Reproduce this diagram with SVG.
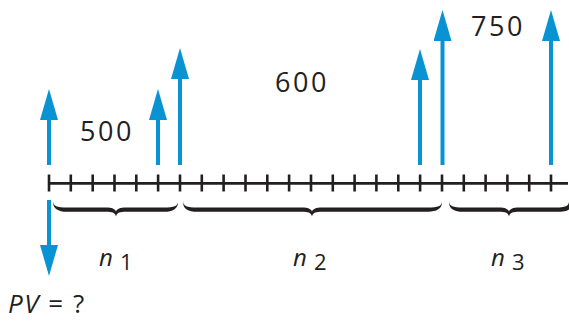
<svg xmlns="http://www.w3.org/2000/svg" width="569" height="321" viewBox="0 0 569 321">
<style>
.txt{font-family:"Open Sans","Noto Sans",sans-serif;fill:#231f20}
.num{font-size:27px;letter-spacing:2.5px}
.n{font-size:24px;font-style:italic}
.d{font-size:22px}
.arr{stroke:#0a93d2;stroke-width:4;fill:none;marker-end:url(#head)}
.axis{stroke:#231f20;stroke-width:2.8;fill:none}
.tick{stroke:#231f20;stroke-width:2.6}
.brace{fill:#231f20}
</style>
<defs>
<marker id="head" markerUnits="userSpaceOnUse" markerWidth="31" markerHeight="18" viewBox="0 0 31 18" refX="2" refY="9" orient="auto">
<path d="M0,0 L31,9 L0,18 Z" fill="#0a93d2"/>
</marker>
</defs>
<g id="axis">
<line class="axis" x1="48" y1="183.3" x2="568" y2="183.3"/>
<g class="tick">
<line x1="49" y1="174.5" x2="49" y2="191.5"/>
<line x1="70.8" y1="174.5" x2="70.8" y2="191.5"/>
<line x1="92.7" y1="174.5" x2="92.7" y2="191.5"/>
<line x1="114.5" y1="174.5" x2="114.5" y2="191.5"/>
<line x1="136.3" y1="174.5" x2="136.3" y2="191.5"/>
<line x1="158.1" y1="174.5" x2="158.1" y2="191.5"/>
<line x1="180" y1="174.5" x2="180" y2="191.5"/>
<line x1="201.8" y1="174.5" x2="201.8" y2="191.5"/>
<line x1="223.6" y1="174.5" x2="223.6" y2="191.5"/>
<line x1="245.5" y1="174.5" x2="245.5" y2="191.5"/>
<line x1="267.3" y1="174.5" x2="267.3" y2="191.5"/>
<line x1="289.1" y1="174.5" x2="289.1" y2="191.5"/>
<line x1="311" y1="174.5" x2="311" y2="191.5"/>
<line x1="332.8" y1="174.5" x2="332.8" y2="191.5"/>
<line x1="354.6" y1="174.5" x2="354.6" y2="191.5"/>
<line x1="376.4" y1="174.5" x2="376.4" y2="191.5"/>
<line x1="398.3" y1="174.5" x2="398.3" y2="191.5"/>
<line x1="420.1" y1="174.5" x2="420.1" y2="191.5"/>
<line x1="442" y1="174.5" x2="442" y2="191.5"/>
<line x1="463.8" y1="174.5" x2="463.8" y2="191.5"/>
<line x1="485.6" y1="174.5" x2="485.6" y2="191.5"/>
<line x1="507.4" y1="174.5" x2="507.4" y2="191.5"/>
<line x1="529.2" y1="174.5" x2="529.2" y2="191.5"/>
<line x1="551" y1="174.5" x2="551" y2="191.5"/>
</g>
</g>
<g id="connectors">
<line class="arr" x1="49" y1="165" x2="49" y2="118"/>
<line class="arr" x1="158" y1="165" x2="158" y2="118"/>
<line class="arr" x1="180" y1="165" x2="180" y2="77"/>
<line class="arr" x1="420" y1="165" x2="420" y2="78"/>
<line class="arr" x1="442.5" y1="165" x2="442.5" y2="39"/>
<line class="arr" x1="551" y1="165" x2="551" y2="39"/>
<line class="arr" x1="49" y1="200" x2="49" y2="247"/>
</g>
<g id="braces">
<path class="brace" d="M53,201 C53,206 57,207.5 67,207.5 L106,207.5 C112,207.5 115,209 116,211.5 C117,209 120,207.5 126,207.5 L164,207.5 C174,207.5 178,206 178,201.5 C178.5,208.5 173,211.8 164,211.8 L126,211.8 C120,211.8 117,212.5 116,216.5 C115,212.5 112,211.8 106,211.8 L67,211.8 C58,211.8 52.5,208.5 53,201 Z"/>
<path class="brace" d="M183,201 C183,206 187,207.5 197,207.5 L302,207.5 C308,207.5 311,209 312,211.5 C313,209 316,207.5 322,207.5 L428,207.5 C438,207.5 442,206 442,201.5 C442.5,208.5 437,211.8 428,211.8 L322,211.8 C316,211.8 313,212.5 312,216.5 C311,212.5 308,211.8 302,211.8 L197,211.8 C188,211.8 182.5,208.5 183,201 Z"/>
<path class="brace" d="M449,201 C449,206 453,207.5 463,207.5 L499,207.5 C505,207.5 508,209 509,211.5 C510,209 513,207.5 519,207.5 L556,207.5 C565,207.5 569,206 569,201.5 L569,209.5 C567,211 563,211.8 556,211.8 L519,211.8 C513,211.8 510,212.5 509,216.5 C508,212.5 505,211.8 499,211.8 L463,211.8 C454,211.8 448.5,208.5 449,201 Z"/>
</g>
<g id="labels">
<text class="txt num" x="80" y="141">500</text>
<text class="txt num" x="275" y="92">600</text>
<text class="txt num" x="471" y="36">750</text>
<text class="txt" x="99" y="266"><tspan class="n">n</tspan><tspan class="d" x="120" y="270">1</tspan></text>
<text class="txt" x="293" y="266"><tspan class="n">n</tspan><tspan class="d" x="314" y="270">2</tspan></text>
<text class="txt" x="491" y="266"><tspan class="n">n</tspan><tspan class="d" x="512" y="270">3</tspan></text>
<text class="txt" x="8" y="313" font-size="26" letter-spacing="1.5"><tspan font-style="italic">PV</tspan> = ?</text>
</g>
</svg>
